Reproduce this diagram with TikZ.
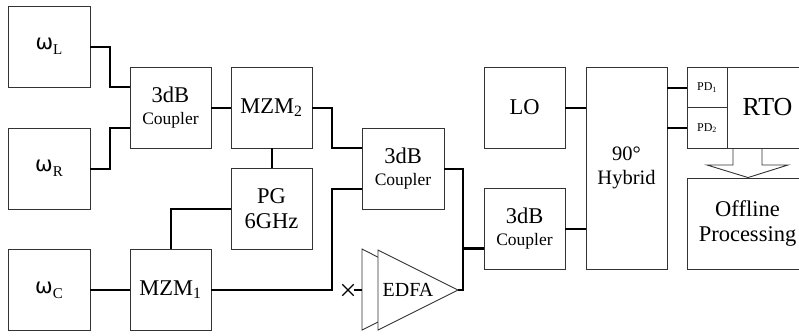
\documentclass[tikz,border=0pt]{standalone}
\usepackage{fontspec}
\setmainfont{Liberation Serif}
\newfontfamily\wfont{DejaVu Sans}
\usepackage{tikz}
\usetikzlibrary{shapes,arrows,positioning,fit,backgrounds}

\newcommand{\wlbl}[1]{{\wfont\fontsize{21}{21}\selectfont ω}\raisebox{-5pt}{\fontsize{15}{15}\selectfont #1}}
\newcommand{\cpl}{\\[-3pt]{\fontsize{17.5}{20}\selectfont Coupler}}

\begin{document}
\begin{tikzpicture}[x=1pt, y=-1pt,
  box/.style={rectangle, draw=black!80, line width=0.9pt, minimum width=81pt, minimum height=81pt, inner sep=0pt, align=center, font=\fontsize{22.5}{25}\selectfont},
  pdbox/.style={rectangle, draw=black!80, line width=0.9pt, minimum width=40pt, minimum height=40.5pt, inner sep=0pt, font=\fontsize{12}{12}\selectfont},
  link/.style={line width=2pt},
  thinline/.style={draw=black!80, line width=0.9pt}
]
\useasboundingbox (0,0) rectangle (799,335);

% sources
\node[box, minimum width=82pt] (wL) at (49,46.5) {\wlbl{L}};
\node[box, minimum width=82pt] (wR) at (49,168.5) {\wlbl{R}};
\node[box, minimum width=82pt] (wC) at (49,290) {\wlbl{C}};

% modulation stage
\node[box] (c1) at (170.5,107.5) {3dB\cpl};
\node[box] (mzm2) at (271.5,107.5) {MZM\textsubscript{2}};
\node[box] (pg) at (271.5,208.5) {PG\\6GHz};
\node[box] (mzm1) at (170.5,290) {MZM\textsubscript{1}};
\node[box, minimum width=82pt] (c2) at (403,168.5) {3dB\cpl};

% EDFA
\draw[thinline] (362,249) -- (362,330) -- (442,290) -- cycle;
\draw[thinline, fill=white] (378,250) -- (458,290) -- (378,330) -- cycle;
\node[font=\fontsize{20}{20}\selectfont] (edfa) at (408,290) {EDFA};
\coordinate (edfain) at (362,290);
\coordinate (edfaout) at (458,290);
\node[cross out, draw, line width=1.3pt, minimum size=10pt, inner sep=0pt] (xmark) at (348,290) {};

% receiver
\node[box] (c3) at (524.5,228.5) {3dB\cpl};
\node[box] (lo) at (524.5,107.5) {LO};
\node[box, minimum height=202pt, font=\fontsize{20.5}{24}\selectfont] (hyb) at (626.5,168) {90°\\Hybrid};
\node[pdbox] (pd1) at (707,87.5) {PD\textsubscript{1}};
\node[pdbox] (pd2) at (707,128) {PD\textsubscript{2}};
\node[box, font=\fontsize{26}{26}\selectfont] (rto) at (767.5,107.5) {RTO};
\node[box, minimum width=121pt, minimum height=91pt] (off) at (747.5,223.5) {Offline\\Processing};

% connections
\draw[link] (wL.east) -- ++(20,0) |- ([yshift=20.5pt]c1.west);
\draw[link] (wR.east) -- ++(20,0) |- ([yshift=-20.5pt]c1.west);
\draw[link] (c1) -- (mzm2);
\draw[link] (mzm2) -- (pg);
\draw[link] (pg.west) -| (mzm1.north);
\draw[link] (wC) -- (mzm1);
\draw[link] (mzm2.east) -- ++(20,0) |- ([yshift=20.5pt]c2.west);
\draw[link] (mzm1.east) -- ++(121,0) |- ([yshift=-20.5pt]c2.west);
\draw[link] (xmark.east) -- (edfain);
\draw[link] (c2.east) -- ++(19,0) |- ([yshift=-19.5pt]c3.west);
\draw[link] (edfaout) -- ++(5,0) |- ([yshift=-20.5pt]c3.west);
\draw[link] (lo.east) -- (lo.east -| hyb.west);
\draw[link] (c3.east) -- (c3.east -| hyb.west);
\draw[link] (pd1.west -| hyb.east) -- (pd1.west);
\draw[link] (pd2.west -| hyb.east) -- (pd2.west);

% block arrow to processing
\draw[thinline] (733,148) -- (733,165) -- (707,165) -- (off.north -| 748,0) -- (788,165) -- (762,165) -- (762,148);
\end{tikzpicture}
\end{document}
